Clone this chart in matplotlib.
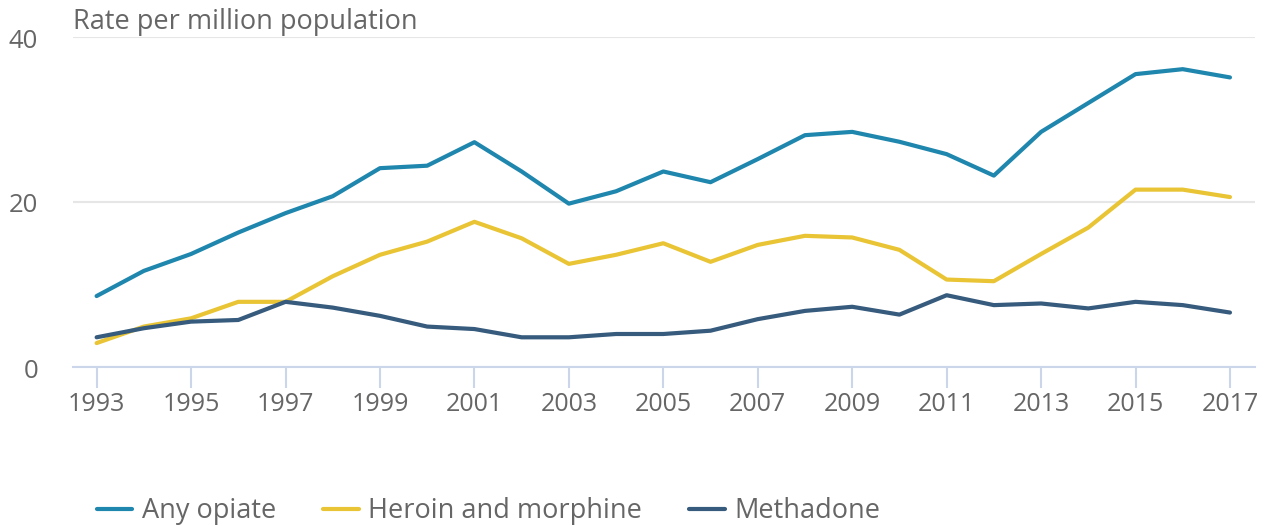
import matplotlib
matplotlib.use("Agg")
import matplotlib.pyplot as plt
from matplotlib.transforms import ScaledTranslation

years = list(range(1993, 2018))
any_opiate = [8.6, 11.65, 13.7, 16.3, 18.65, 20.7, 24.1, 24.4, 27.25, 23.7, 19.8, 21.3, 23.7,
              22.4, 25.2, 28.1, 28.5, 27.3, 25.8, 23.2, 28.5, 32.0, 35.5, 36.1, 35.1]
heroin_morphine = [2.9, 4.9, 5.9, 7.9, 7.9, 11.0, 13.6, 15.2, 17.6, 15.6, 12.5, 13.6, 15.0,
                   12.75, 14.8, 15.9, 15.7, 14.2, 10.6, 10.4, 13.7, 16.9, 21.5, 21.5, 20.6]
methadone = [3.6, 4.7, 5.5, 5.7, 7.9, 7.2, 6.2, 4.9, 4.6, 3.6, 3.6, 4.0, 4.0,
             4.4, 5.8, 6.8, 7.3, 6.35, 8.7, 7.5, 7.7, 7.1, 7.9, 7.5, 6.6]
series_names = ["Any opiate", "Heroin and morphine", "Methadone"]
colors = ["#1f86ad", "#e9c434", "#365b7d"]
x_ticks = list(range(1993, 2018, 2))
y_ticks = [0, 20, 40]

plt.rcParams['font.family'] = ['Open Sans', 'DejaVu Sans']

W, H = 1268, 526
fig = plt.figure(figsize=(W / 100, H / 100), dpi=100)
ax = fig.add_axes([73 / W, 1 - 367 / H, (1255 - 73) / W, (367 - 37) / H])

for vals, name, c in zip([any_opiate, heroin_morphine, methadone], series_names, colors):
    ax.plot(years, vals, color=c, lw=3.0, label=name, solid_joinstyle='round', solid_capstyle='round')

ax.set_xlim(1992.5, 2017.53)
ax.set_ylim(0, 40)
ax.set_yticks(y_ticks)
ax.set_xticks(x_ticks)
ax.grid(axis='y', color='#e6e6e6', lw=1.5)
ax.set_axisbelow(True)
for s in ['top', 'right', 'left']:
    ax.spines[s].set_visible(False)
ax.spines['bottom'].set_color('#ccd6eb')
ax.spines['bottom'].set_linewidth(1.5)
ax.tick_params(axis='x', length=15, width=1.5, color='#ccd6eb', labelsize=18, labelcolor='#666666', pad=3)
ax.tick_params(axis='y', length=0, labelsize=18.5, labelcolor='#666666', pad=25)
off = ScaledTranslation(0, -4 / 100, fig.dpi_scale_trans)
for lbl in ax.get_yticklabels():
    lbl.set_verticalalignment('center')
    lbl.set_transform(lbl.get_transform() + off)

fig.text(73 / W, 1 - 22 / H, "Rate per million population", fontsize=19.5, color='#666666',
         ha='left', va='center')

handles, labels = ax.get_legend_handles_labels()
leg = fig.legend(handles, labels, loc='center left', bbox_to_anchor=(97 / W, 1 - 511 / H),
                 ncol=3, frameon=False, fontsize=19.5, handlelength=1.3, handletextpad=0.35,
                 columnspacing=1.75, borderaxespad=0, borderpad=0)
for t in leg.get_texts():
    t.set_color('#666666')

fig.savefig("out.png", dpi=100)
